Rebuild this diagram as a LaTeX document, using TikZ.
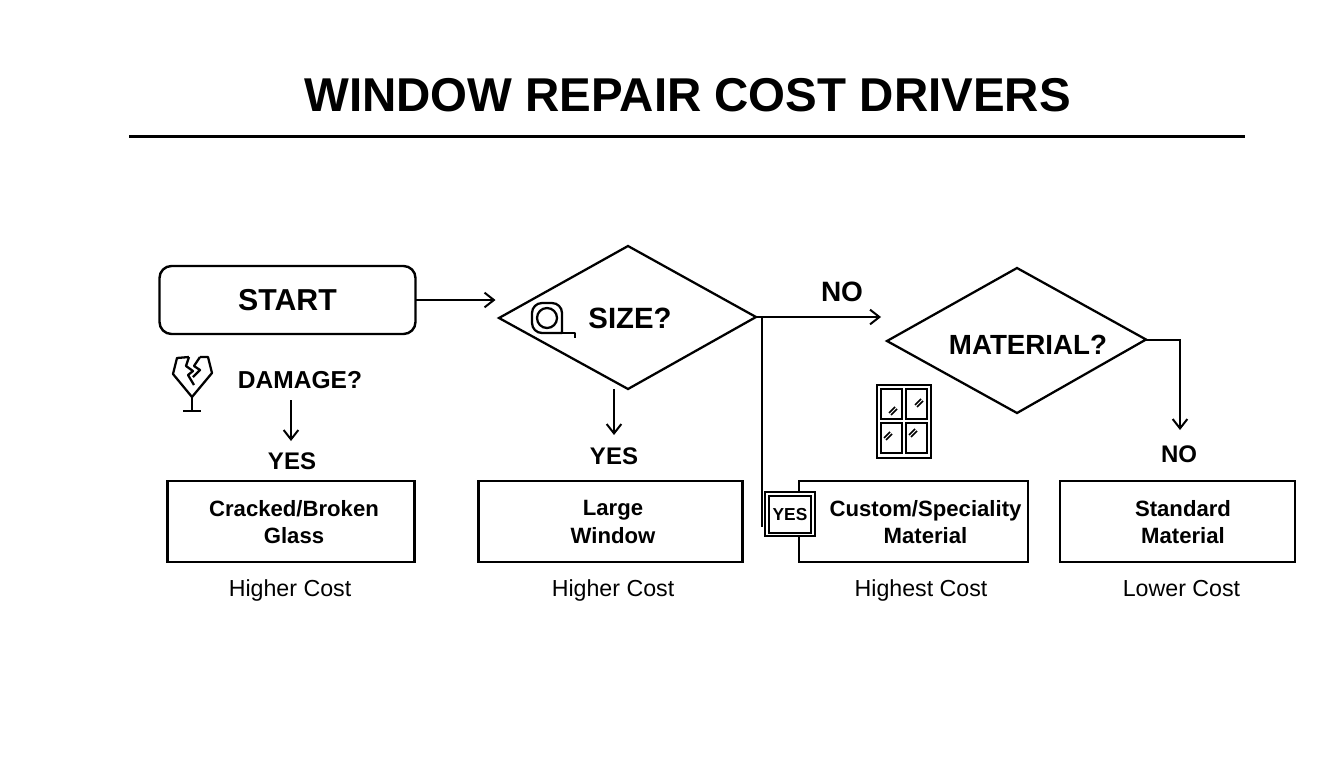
\documentclass[tikz,border=0pt]{standalone}
\usepackage{fontspec}
\setmainfont{Liberation Sans}
\usetikzlibrary{arrows.meta,shapes.geometric}
\newcommand{\fs}[1]{\fontsize{#1}{#1}\selectfont}
\tikzset{
  x=0.75pt,y=-0.75pt,
  line/.style={draw=black,line width=1.9pt},
  iconline/.style={draw=black,line width=1.7pt,line join=round},
  conn/.style={draw=black,line width=1.5pt,-{Straight Barb[length=7pt,width=11pt,line width=1.5pt]}},
  box/.style={draw=black,line width=1.8pt,fill=none,minimum height=60.75pt,inner sep=0pt,align=center,font=\fs{16.6}\bfseries},
  dlab/.style={inner sep=0pt,font=\fs{18}\bfseries},
  cost/.style={inner sep=0pt,anchor=base,font=\fs{17.4}},
}
\begin{document}
\begin{tikzpicture}
\useasboundingbox (0,0) rectangle (1344,768);
\fill[white] (0,0) rectangle (1344,768);
\node[inner sep=0pt,font=\fs{35.6}\bfseries] (title) at (687.5,95) {WINDOW REPAIR COST DRIVERS};
\coordinate (ruleL) at (129,136.5);
\coordinate (ruleR) at (1245,136.5);
\draw[line] (ruleL) -- (ruleR);
% start
\node[draw=black,line width=1.8pt,rounded corners=9pt,minimum width=192pt,minimum height=51pt,inner sep=0pt,font=\fs{22.7}\bfseries] (start) at (287.5,300) {START};
% diamonds
\coordinate (dsL) at (499,318); \coordinate (dsT) at (628,246); \coordinate (dsR) at (756,317); \coordinate (dsB) at (628,389);
\draw[draw=black,line width=1.7pt] (dsL) -- (dsT) -- (dsR) -- (dsB) -- cycle;
\node[inner sep=0pt,font=\fs{22}\bfseries] (size) at (630,318) {SIZE?};
\coordinate (dmL) at (887,341); \coordinate (dmT) at (1017,268); \coordinate (dmR) at (1146,339.5); \coordinate (dmB) at (1017,413);
\draw[draw=black,line width=1.7pt] (dmL) -- (dmT) -- (dmR) -- (dmB) -- cycle;
\node[inner sep=0pt,font=\fs{20.8}\bfseries] (material) at (1028,345) {MATERIAL?};
% labels
\node[inner sep=0pt,font=\fs{18.4}\bfseries] (damage) at (300,380) {DAMAGE?};
\node[dlab] (yes1) at (292,461) {YES};
\node[dlab] (yes2) at (614,456) {YES};
\node[dlab,font=\fs{21}\bfseries] (no1) at (842,292) {NO};
\node[dlab] (no2) at (1179,454) {NO};
% boxes
\node[box,minimum width=185pt] (b1) at (291,521.5) {};
\node[inner sep=0pt,align=center,font=\fs{16.6}\bfseries] (b1t) at (294,522) {Cracked/Broken\\[4pt]Glass};
\node[box,minimum width=198pt] (b2) at (610.5,521.5) {};
\node[inner sep=0pt,align=center,font=\fs{16.6}\bfseries] (b2t) at (613,522) {Large\\[4pt]Window};
\node[box,minimum width=171.5pt] (b3) at (913.5,521.5) {};
\node[inner sep=0pt,align=center,font=\fs{16.6}\bfseries] (b3t) at (925.5,522) {Custom/Speciality\\[4pt]Material};
\node[box,minimum width=176pt] (b4) at (1177.5,521.5) {};
\node[inner sep=0pt,align=center,font=\fs{16.6}\bfseries] (b4t) at (1183,522) {Standard\\[4pt]Material};
% costs
\node[cost] (c1) at (290,596) {Higher Cost};
\node[cost] (c2) at (613,596) {Higher Cost};
\node[cost] (c3) at (921,596) {Highest Cost};
\node[cost] (c4) at (1181.5,596) {Lower Cost};
% connectors
\coordinate (startOut) at (416,300);
\coordinate (startTip) at (495.5,300);
\draw[conn] (startOut) -- (startTip);
\coordinate (dmgFrom) at (291,400);
\coordinate (dmgTip) at (291,441);
\draw[conn] (dmgFrom) -- (dmgTip);
\coordinate (szFrom) at (614,389);
\coordinate (szTip) at (614,435);
\draw[conn] (szFrom) -- (szTip);
\coordinate (noTip) at (881,317);
\draw[conn] (dsR) -- (noTip);
\coordinate (yesTop) at (762,317);
\coordinate (yesEnd) at (762,527);
\draw[draw=black,line width=1.9pt] (yesTop) -- (yesEnd);
\coordinate (mout) at (1180,339.5);
\coordinate (moutTip) at (1180,430);
\draw[conn] (dmR) -- (mout) -- (moutTip);
% YES box
\node[draw=black,fill=white,line width=1.5pt,minimum width=37.5pt,minimum height=33.5pt,inner sep=0pt] (yesOut) at (790,514) {};
\node[draw=black,line width=1.7pt,minimum width=32pt,minimum height=28pt,inner sep=0pt,font=\fs{13}\bfseries] (yesIn) at (790,514.5) {YES};
% window icon
\draw[draw=black,line width=1.8pt] (877,385) rectangle (931,458);
\foreach \a/\b/\c/\d in {881/389/902/419, 906/389/927/419, 881/423/902/453, 906/423/927/453}{
  \draw[draw=black,line width=1.9pt] (\a,\b) rectangle (\c,\d);
}
\foreach \x/\y in {893/411, 919/403, 888/436, 913/433}{
  \draw[black,line width=1.1pt] (\x-4,\y+2) -- (\x+2,\y-4);
  \draw[black,line width=1.1pt] (\x-2,\y+4) -- (\x+4,\y-2);
}
% glass icon
\draw[iconline] (189,357) -- (177,358) -- (173,374) -- (192,397) -- (212,373) -- (208,357) -- (200,357);
\draw[iconline] (189,357) -- (186,366) -- (193,371) -- (188,375) -- (194,385);
\draw[iconline] (200,357) -- (194,366) -- (200,370) -- (193,377);
\draw[iconline] (192,397) -- (192,411);
\draw[iconline] (183,411) -- (201,411);
% tape icon
\draw[iconline,rounded corners=7.5pt] (562,333) -- (532,333) -- (532,303) -- (562,303) -- (562,333);
\draw[iconline] (547,318) circle[radius=10];
\draw[iconline] (553,333) -- (575,333) -- (575,338);
\end{tikzpicture}
\end{document}
